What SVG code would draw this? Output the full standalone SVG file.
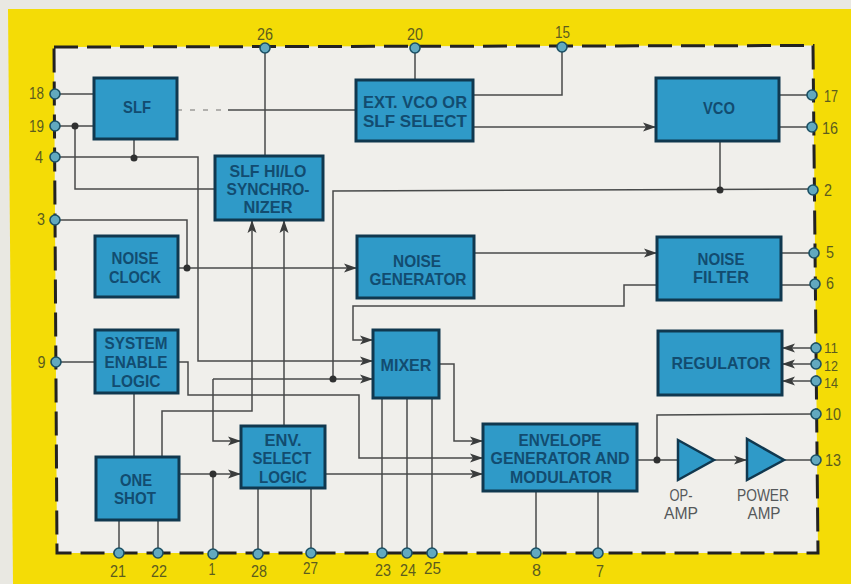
<svg xmlns="http://www.w3.org/2000/svg" width="851" height="584" viewBox="0 0 851 584">
<style>
.box{fill:#2f9ac8;stroke:#10384f;stroke-width:3}
.tri{fill:#2f9ac8;stroke:#10384f;stroke-width:2.5}
.t{font-family:"Liberation Sans",Arial,sans-serif;font-size:16.5px;font-weight:700;fill:#124c70;text-anchor:middle}
.a{font-family:"Liberation Sans",Arial,sans-serif;font-size:16.5px;fill:#55585a;text-anchor:middle}
.p{font-family:"Liberation Sans",Arial,sans-serif;font-size:17px;fill:#5c5c1e;text-anchor:middle}
.s{font-size:14.5px}
.pin{fill:#62a9bf;stroke:#1c5064;stroke-width:1.6}
.c{fill:none;stroke:#484a4a;stroke-width:1.5}
.j{fill:#2f3030}
.ar{marker-end:url(#arrow)}
</style>
<defs>
<marker id="arrow" markerUnits="userSpaceOnUse" markerWidth="14" markerHeight="10" refX="13" refY="5" orient="auto">
<path d="M0,0.5L13,5L0,9.5L3,5Z" fill="#3a3c3c"/>
</marker>
</defs>
<rect width="851" height="584" fill="#e9e8e2"/>
<polygon points="8,9 851,9 851,584 13,584" fill="#f4dc06"/>
<polygon points="54,47 813,45.5 818,553 57,553" fill="#f0efeb"/>
<polygon points="54,47 813,45.5 818,553 57,553" fill="none" stroke="#222" stroke-width="3" stroke-dasharray="24 9"/>
<g id="connectors">
<path class="c" d="M55,94H94"/>
<path class="c" d="M55,126H94"/>
<path class="c" d="M75,126V189H215"/>
<path class="c" d="M134,139V158"/>
<path class="c ar" d="M55,157H198V361H373"/>
<path class="c" d="M55,220H187V268"/>
<path class="c ar" d="M178,268H357"/>
<path class="c" d="M177,110H228" stroke-dasharray="5 8" stroke-opacity="0.5"/>
<path class="c" d="M228,110H356"/>
<path class="c" d="M265,48V156"/>
<path class="c" d="M415,48V80"/>
<path class="c" d="M562,47V95H473"/>
<path class="c ar" d="M473,127H656"/>
<path class="c" d="M779,95H812"/>
<path class="c" d="M779,127H812"/>
<path class="c" d="M720,141V190"/>
<path class="c" d="M812,189L333,191V379"/>
<path class="c ar" d="M213,379H373"/>
<path class="c ar" d="M213,379V441H241"/>
<path class="c ar" d="M162,457V411H252V220"/>
<path class="c ar" d="M284,426V220"/>
<path class="c ar" d="M474,253H657"/>
<path class="c" d="M781,253H814"/>
<path class="c" d="M781,285H815"/>
<path class="c ar" d="M657,285H624V306H353V340H373"/>
<path class="c" d="M56,362H95"/>
<path class="c ar" d="M178,362H188V395H359V458H483"/>
<path class="c" d="M134,393V457"/>
<path class="c ar" d="M179,474H241"/>
<path class="c" d="M213,474V554"/>
<path class="c ar" d="M325,474H483"/>
<path class="c ar" d="M439,364H454V441H483"/>
<path class="c" d="M119,520V553"/>
<path class="c" d="M158,520V553"/>
<path class="c" d="M258,488V554"/>
<path class="c" d="M311,488V553"/>
<path class="c" d="M382,398V553"/>
<path class="c" d="M407,398V553"/>
<path class="c" d="M432,398V553"/>
<path class="c" d="M536,491V553"/>
<path class="c" d="M598,491V553"/>
<path class="c" d="M637,460H678"/>
<path class="c" d="M657,460V415L816,414"/>
<path class="c ar" d="M714,460H747"/>
<path class="c" d="M784,460H816"/>
<path class="c ar" d="M816,348H782"/>
<path class="c ar" d="M816,364H782"/>
<path class="c ar" d="M816,381H782"/>
<circle class="j" cx="75" cy="126" r="3.5"/>
<circle class="j" cx="134" cy="158" r="3.5"/>
<circle class="j" cx="187" cy="268" r="3.5"/>
<circle class="j" cx="720" cy="190" r="3.5"/>
<circle class="j" cx="333" cy="379" r="3.5"/>
<circle class="j" cx="213" cy="474" r="3.5"/>
<circle class="j" cx="657" cy="460" r="3.5"/>
</g>
<g id="slf"><rect class="box" x="94" y="78" width="83" height="61"/><text class="t" x="137" y="113" textLength="28" lengthAdjust="spacingAndGlyphs">SLF</text></g>
<g id="ext-vco"><rect class="box" x="356" y="80" width="117" height="61"/><text class="t" x="415" y="108" textLength="104" lengthAdjust="spacingAndGlyphs">EXT. VCO OR</text><text class="t" x="415" y="127" textLength="104" lengthAdjust="spacingAndGlyphs">SLF SELECT</text></g>
<g id="vco"><rect class="box" x="656" y="78" width="123" height="63"/><text class="t" x="719" y="114" textLength="32" lengthAdjust="spacingAndGlyphs">VCO</text></g>
<g id="synchronizer"><rect class="box" x="215" y="156" width="108" height="64"/><text class="t" x="268" y="177" textLength="77" lengthAdjust="spacingAndGlyphs">SLF HI/LO</text><text class="t" x="268" y="195" textLength="83" lengthAdjust="spacingAndGlyphs">SYNCHRO-</text><text class="t" x="268" y="213" textLength="49" lengthAdjust="spacingAndGlyphs">NIZER</text></g>
<g id="noise-clock"><rect class="box" x="95" y="236" width="83" height="61"/><text class="t" x="135" y="264" textLength="47" lengthAdjust="spacingAndGlyphs">NOISE</text><text class="t" x="135" y="283" textLength="52" lengthAdjust="spacingAndGlyphs">CLOCK</text></g>
<g id="noise-generator"><rect class="box" x="357" y="236" width="117" height="62"/><text class="t" x="417" y="267" textLength="48" lengthAdjust="spacingAndGlyphs">NOISE</text><text class="t" x="418" y="285" textLength="97" lengthAdjust="spacingAndGlyphs">GENERATOR</text></g>
<g id="noise-filter"><rect class="box" x="657" y="237" width="124" height="63"/><text class="t" x="721" y="265" textLength="47" lengthAdjust="spacingAndGlyphs">NOISE</text><text class="t" x="721" y="283" textLength="56" lengthAdjust="spacingAndGlyphs">FILTER</text></g>
<g id="system-enable"><rect class="box" x="95" y="330" width="83" height="63"/><text class="t" x="136" y="349" textLength="63" lengthAdjust="spacingAndGlyphs">SYSTEM</text><text class="t" x="136" y="368" textLength="63" lengthAdjust="spacingAndGlyphs">ENABLE</text><text class="t" x="136" y="387" textLength="49" lengthAdjust="spacingAndGlyphs">LOGIC</text></g>
<g id="mixer"><rect class="box" x="373" y="330" width="66" height="68"/><text class="t" x="406" y="371" textLength="51" lengthAdjust="spacingAndGlyphs">MIXER</text></g>
<g id="regulator"><rect class="box" x="658" y="331" width="124" height="64"/><text class="t" x="721" y="369" textLength="99" lengthAdjust="spacingAndGlyphs">REGULATOR</text></g>
<g id="env-select"><rect class="box" x="241" y="426" width="84" height="62"/><text class="t" x="283" y="446" textLength="37" lengthAdjust="spacingAndGlyphs">ENV.</text><text class="t" x="282" y="464" textLength="59" lengthAdjust="spacingAndGlyphs">SELECT</text><text class="t" x="283" y="483" textLength="48" lengthAdjust="spacingAndGlyphs">LOGIC</text></g>
<g id="one-shot"><rect class="box" x="96" y="457" width="83" height="63"/><text class="t" x="136" y="486" textLength="32" lengthAdjust="spacingAndGlyphs">ONE</text><text class="t" x="135" y="504" textLength="42" lengthAdjust="spacingAndGlyphs">SHOT</text></g>
<g id="envelope"><rect class="box" x="483" y="424" width="154" height="67"/><text class="t" x="560" y="446" textLength="83" lengthAdjust="spacingAndGlyphs">ENVELOPE</text><text class="t" x="560" y="464" textLength="139" lengthAdjust="spacingAndGlyphs">GENERATOR AND</text><text class="t" x="561" y="483" textLength="102" lengthAdjust="spacingAndGlyphs">MODULATOR</text></g>
<g id="op-amp"><polygon class="tri" points="678,440 678,480 714,460"/><text class="a" x="681" y="501" textLength="23" lengthAdjust="spacingAndGlyphs">OP-</text><text class="a" x="681" y="519" textLength="34" lengthAdjust="spacingAndGlyphs">AMP</text></g>
<g id="power-amp"><polygon class="tri" points="747,439 747,480 784,460"/><text class="a" x="763" y="501" textLength="52" lengthAdjust="spacingAndGlyphs">POWER</text><text class="a" x="764" y="519" textLength="33" lengthAdjust="spacingAndGlyphs">AMP</text></g>
<g id="pin-18"><circle class="pin" cx="55" cy="94" r="5"/><text class="p" x="36.5" y="99" textLength="15" lengthAdjust="spacingAndGlyphs">18</text></g>
<g id="pin-19"><circle class="pin" cx="55" cy="126" r="5"/><text class="p" x="36.5" y="132" textLength="15" lengthAdjust="spacingAndGlyphs">19</text></g>
<g id="pin-4"><circle class="pin" cx="55" cy="157" r="5"/><text class="p" x="39" y="163" textLength="8" lengthAdjust="spacingAndGlyphs">4</text></g>
<g id="pin-3"><circle class="pin" cx="55" cy="220" r="5"/><text class="p" x="41" y="225" textLength="8" lengthAdjust="spacingAndGlyphs">3</text></g>
<g id="pin-9"><circle class="pin" cx="56" cy="362" r="5"/><text class="p" x="41.5" y="368" textLength="8" lengthAdjust="spacingAndGlyphs">9</text></g>
<g id="pin-26"><circle class="pin" cx="265" cy="48" r="5"/><text class="p" x="265" y="40" textLength="16" lengthAdjust="spacingAndGlyphs">26</text></g>
<g id="pin-20"><circle class="pin" cx="415" cy="48" r="5"/><text class="p" x="415" y="40" textLength="16" lengthAdjust="spacingAndGlyphs">20</text></g>
<g id="pin-15"><circle class="pin" cx="562" cy="47" r="5"/><text class="p" x="562.5" y="38" textLength="15" lengthAdjust="spacingAndGlyphs">15</text></g>
<g id="pin-17"><circle class="pin" cx="812" cy="95" r="5"/><text class="p" x="831" y="102" textLength="14" lengthAdjust="spacingAndGlyphs">17</text></g>
<g id="pin-16"><circle class="pin" cx="812" cy="127" r="5"/><text class="p" x="830" y="134" textLength="16" lengthAdjust="spacingAndGlyphs">16</text></g>
<g id="pin-2"><circle class="pin" cx="813" cy="190" r="5"/><text class="p" x="828" y="196" textLength="8" lengthAdjust="spacingAndGlyphs">2</text></g>
<g id="pin-5"><circle class="pin" cx="814" cy="253" r="5"/><text class="p" x="830" y="258" textLength="8" lengthAdjust="spacingAndGlyphs">5</text></g>
<g id="pin-6"><circle class="pin" cx="815" cy="284" r="5"/><text class="p" x="830" y="289" textLength="8" lengthAdjust="spacingAndGlyphs">6</text></g>
<g id="pin-11"><circle class="pin" cx="816" cy="348" r="5"/><text class="p s" x="831" y="353" textLength="14" lengthAdjust="spacingAndGlyphs">11</text></g>
<g id="pin-12"><circle class="pin" cx="816" cy="364" r="5"/><text class="p s" x="831" y="370.5" textLength="14" lengthAdjust="spacingAndGlyphs">12</text></g>
<g id="pin-14"><circle class="pin" cx="816" cy="381" r="5"/><text class="p s" x="831" y="388" textLength="14" lengthAdjust="spacingAndGlyphs">14</text></g>
<g id="pin-10"><circle class="pin" cx="816" cy="414" r="5"/><text class="p" x="833" y="420" textLength="16" lengthAdjust="spacingAndGlyphs">10</text></g>
<g id="pin-13"><circle class="pin" cx="816" cy="460" r="5"/><text class="p" x="833" y="466" textLength="16" lengthAdjust="spacingAndGlyphs">13</text></g>
<g id="pin-21"><circle class="pin" cx="119" cy="553" r="5"/><text class="p" x="118" y="577" textLength="16" lengthAdjust="spacingAndGlyphs">21</text></g>
<g id="pin-22"><circle class="pin" cx="158" cy="553" r="5"/><text class="p" x="159" y="577" textLength="16" lengthAdjust="spacingAndGlyphs">22</text></g>
<g id="pin-1"><circle class="pin" cx="213" cy="554" r="5"/><text class="p" x="212" y="575" textLength="7" lengthAdjust="spacingAndGlyphs">1</text></g>
<g id="pin-28"><circle class="pin" cx="258" cy="554" r="5"/><text class="p" x="259" y="577" textLength="16" lengthAdjust="spacingAndGlyphs">28</text></g>
<g id="pin-27"><circle class="pin" cx="311" cy="553" r="5"/><text class="p" x="310.5" y="574" textLength="15" lengthAdjust="spacingAndGlyphs">27</text></g>
<g id="pin-23"><circle class="pin" cx="382" cy="553" r="5"/><text class="p" x="383" y="576" textLength="16" lengthAdjust="spacingAndGlyphs">23</text></g>
<g id="pin-24"><circle class="pin" cx="407" cy="553" r="5"/><text class="p" x="408" y="576" textLength="16" lengthAdjust="spacingAndGlyphs">24</text></g>
<g id="pin-25"><circle class="pin" cx="432" cy="553" r="5"/><text class="p" x="432.5" y="574" textLength="17" lengthAdjust="spacingAndGlyphs">25</text></g>
<g id="pin-8"><circle class="pin" cx="536" cy="553" r="5"/><text class="p" x="536.5" y="576" textLength="9" lengthAdjust="spacingAndGlyphs">8</text></g>
<g id="pin-7"><circle class="pin" cx="598" cy="553" r="5"/><text class="p" x="600" y="577" textLength="8" lengthAdjust="spacingAndGlyphs">7</text></g>
</svg>
